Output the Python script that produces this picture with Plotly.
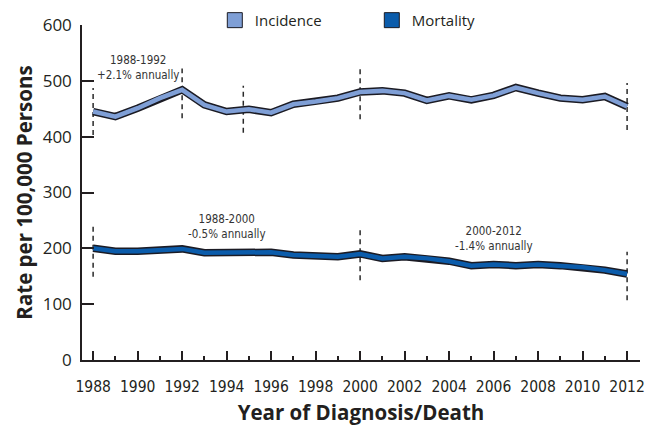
import plotly.graph_objects as go

years = list(range(1988, 2013))
incidence = [445, 436, 451, 469, 484, 457, 445, 449, 443, 458, 463, 469, 480, 482, 478, 465, 473, 466, 474, 488, 478, 469, 466, 472, 454]
mortality = [200, 195, 195, 198, 199, 192, 192, 192, 193, 188, 186, 185, 190, 182, 185, 182, 177, 169, 171, 169, 171, 169, 166, 161, 154]

# joinpoint markers: (year, low, high)
inc_breaks_x = [1988, 1992, 1994.75, 2000, 2012]
inc_breaks_lo = [403, 433, 407, 431, 412]
inc_breaks_hi = [487, 522, 491, 521, 496]
mort_breaks_x = [1988, 2000, 2012]
mort_breaks_lo = [149, 143, 107]
mort_breaks_hi = [239, 233, 194]

notes_x = [1990, 1994, 2006]
notes_y = [524, 240, 217]
notes_text = ["1988-1992<br>+2.1% annually", "1988-2000<br>-0.5% annually", "2000-2012<br>-1.4% annually"]

inc_color = "#7f9fd6"
mort_color = "#0b5cab"
edge = "#1b1b24"
ink = "#231f20"

fig = go.Figure()

def dash_trace(xs, lo, hi):
    X, Y = [], []
    for x, a, b in zip(xs, lo, hi):
        X += [x, x, None]
        Y += [a, b, None]
    return go.Scatter(x=X, y=Y, mode="lines", showlegend=False, hoverinfo="skip",
                      line=dict(color="#2a2a2a", width=1.5, dash="5px,4px"))

fig.add_trace(dash_trace(inc_breaks_x, inc_breaks_lo, inc_breaks_hi))
fig.add_trace(dash_trace(mort_breaks_x, mort_breaks_lo, mort_breaks_hi))

for vals, col in [(incidence, inc_color), (mortality, mort_color)]:
    fig.add_trace(go.Scatter(x=years, y=vals, mode="lines", showlegend=False,
                             line=dict(color=edge, width=7.5)))
    fig.add_trace(go.Scatter(x=years, y=vals, mode="lines", showlegend=False,
                             line=dict(color=col, width=4.5)))

for name, col in [("Incidence", inc_color), ("Mortality", mort_color)]:
    fig.add_trace(go.Scatter(x=[None], y=[None], mode="markers", name=name,
                             marker=dict(symbol="square", size=15, color=col,
                                         line=dict(color=edge, width=1))))

for x, y, t in zip(notes_x, notes_y, notes_text):
    fig.add_annotation(x=x, y=y, text=t, showarrow=False, xanchor="center", yanchor="middle",
                       font=dict(family="DejaVu Sans Condensed", size=11.5, color="#333333"))

# the page body adds an 8px offset, so the figure is 8px smaller and margins shifted
fig.update_layout(
    width=649, height=418,
    margin=dict(l=74, r=17, t=17, b=66, autoexpand=False),
    paper_bgcolor="white", plot_bgcolor="white",
    font=dict(family="Open Sans", color=ink),
    legend=dict(orientation="h", x=0.238, xanchor="left", y=1.063, yanchor="top",
                entrywidth=112, entrywidthmode="pixels",
                font=dict(family="Open Sans", size=15, color=ink), bgcolor="rgba(0,0,0,0)"),
    xaxis=dict(range=[1987.5, 2012.58], showline=True, linecolor=ink, linewidth=1.5,
               showgrid=False, zeroline=False, ticks="inside", ticklen=9, tickwidth=1.5,
               tickcolor=ink, tick0=1988, dtick=2, ticklabelstandoff=12, automargin=False,
               tickfont=dict(family="DejaVu Sans Condensed", size=15.5, color=ink),
               minor=dict(dtick=1, tick0=1988, ticks="inside", ticklen=4.5, tickwidth=1.5,
                          tickcolor=ink, showgrid=False),
               title=dict(text="<b>Year of Diagnosis/Death</b>", standoff=12,
                          font=dict(family="Open Sans", size=20.5, color=ink))),
    yaxis=dict(range=[0, 600], showline=True, linecolor=ink, linewidth=1.5,
               showgrid=False, zeroline=False, ticks="inside", ticklen=12, tickwidth=1.5,
               tickcolor=ink, dtick=100, ticklabelstandoff=5, automargin=False,
               tickfont=dict(family="Open Sans", size=17, color=ink),
               title=dict(text="<b>Rate per 100,000 Persons</b>", standoff=5,
                          font=dict(family="Open Sans", size=20.5, color=ink))),
)

fig.write_html("out.html")
